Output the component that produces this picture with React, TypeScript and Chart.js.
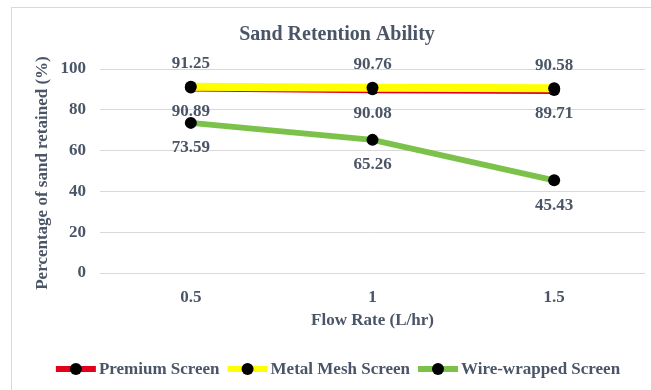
import { useEffect, useRef } from 'react';
import { Chart, registerables } from 'chart.js';

Chart.register(...registerables);

// Flow rates on the category axis
const flowRates = ['0.5', '1', '1.5'];
// Percentage of sand retained for each screen type
const premiumScreen = [90.89, 90.08, 89.71];
const metalMeshScreen = [91.25, 90.76, 90.58];
const wireWrappedScreen = [73.59, 65.26, 45.43];
// Y axis range and step
const yMin = 0;
const yMax = 100;
const yStep = 20;

const chartTitle = 'Sand Retention Ability';
const xTitle = 'Flow Rate (L/hr)';
const yTitle = 'Percentage of sand retained (%)';
const seriesNames = ['Premium Screen', 'Metal Mesh Screen', 'Wire-wrapped Screen'];

const SERIF = "'Liberation Serif', 'Times New Roman', serif";
const TEXT = '#4a5567';
const GRID = '#d9d9d9';

const decorations = {
  id: 'decorations',
  afterDatasetsDraw(chart: any) {
    const ctx = chart.ctx;
    ctx.save();
    ctx.font = `bold 17px ${SERIF}`;
    ctx.fillStyle = TEXT;
    ctx.textAlign = 'center';
    ctx.textBaseline = 'middle';
    chart.data.datasets.forEach((ds: any, i: number) => {
      const meta = chart.getDatasetMeta(i);
      meta.data.forEach((pt: any, j: number) => {
        const v = ds.data[j] as number;
        ctx.fillText(v.toFixed(2), pt.x, pt.y + ds.labelShift);
      });
    });
    ctx.restore();
  },
  afterDraw(chart: any) {
    const ctx = chart.ctx;
    const area = chart.chartArea;
    ctx.save();
    ctx.fillStyle = TEXT;
    ctx.textAlign = 'center';
    ctx.textBaseline = 'middle';

    // Title
    ctx.font = `bold 20px ${SERIF}`;
    ctx.fillText(chartTitle, 337, 35);

    // X axis title
    ctx.font = `bold 17px ${SERIF}`;
    ctx.fillText(xTitle, (area.left + area.right) / 2, 321);

    // Y axis title
    ctx.save();
    ctx.translate(43, (area.top + area.bottom) / 2 + 2);
    ctx.rotate(-Math.PI / 2);
    ctx.font = `bold 17px ${SERIF}`;
    ctx.fillText(yTitle, 0, 0);
    ctx.restore();

    // Legend
    ctx.font = `bold 17px ${SERIF}`;
    const markerW = 40;
    const textGap = 3;
    const itemGap = 8;
    const widths = chart.data.datasets.map(
      (ds: any) => markerW + textGap + ctx.measureText(ds.label).width
    );
    const total = widths.reduce((a: number, b: number) => a + b, 0) + itemGap * (widths.length - 1);
    let x = 338 - total / 2;
    const y = 369;
    chart.data.datasets.forEach((ds: any, i: number) => {
      ctx.strokeStyle = ds.borderColor;
      ctx.lineWidth = 6;
      ctx.lineCap = 'butt';
      ctx.beginPath();
      ctx.moveTo(x, y);
      ctx.lineTo(x + markerW, y);
      ctx.stroke();
      ctx.fillStyle = '#000000';
      ctx.beginPath();
      ctx.arc(x + markerW / 2, y, 6, 0, Math.PI * 2);
      ctx.fill();
      ctx.fillStyle = TEXT;
      ctx.textAlign = 'left';
      ctx.fillText(ds.label, x + markerW + textGap, y + 1);
      x += widths[i] + itemGap;
    });
    ctx.restore();
  },
};

export default function App() {
  const canvasRef = useRef<HTMLCanvasElement | null>(null);

  useEffect(() => {
    const canvas = canvasRef.current;
    if (!canvas) return;
    const chart = new Chart(canvas, {
      type: 'line',
      data: {
        labels: flowRates,
        datasets: [
          {
            label: seriesNames[0],
            data: premiumScreen,
            borderColor: '#e3001b',
            backgroundColor: '#e3001b',
            borderWidth: 8,
            pointRadius: 6,
            pointBackgroundColor: '#000000',
            pointBorderWidth: 0,
            order: 3,
            labelShift: 24,
          } as any,
          {
            label: seriesNames[1],
            data: metalMeshScreen,
            borderColor: '#ffff00',
            backgroundColor: '#ffff00',
            borderWidth: 8,
            pointRadius: 6,
            pointBackgroundColor: '#000000',
            pointBorderWidth: 0,
            order: 2,
            labelShift: -23,
          } as any,
          {
            label: seriesNames[2],
            data: wireWrappedScreen,
            borderColor: '#7cc24a',
            backgroundColor: '#7cc24a',
            borderWidth: 6,
            pointRadius: 6,
            pointBackgroundColor: '#000000',
            pointBorderWidth: 0,
            order: 1,
            labelShift: 25,
          } as any,
        ],
      },
      options: {
        responsive: false,
        animation: false,
        devicePixelRatio: 1,
        layout: { padding: { top: 69, right: 6, bottom: 0, left: 0 } },
        plugins: {
          legend: { display: false },
          title: { display: false },
          tooltip: { enabled: false },
        },
        scales: {
          x: {
            offset: true,
            grid: { display: false },
            border: { display: false },
            ticks: {
              color: TEXT,
              padding: 6,
              font: { family: SERIF, size: 17, weight: 'bold' },
            },
            afterFit: (s: any) => {
              s.height = 117;
            },
          },
          y: {
            min: yMin,
            max: yMax,
            grid: { color: GRID, lineWidth: 1, drawTicks: false },
            border: { display: false },
            ticks: {
              stepSize: yStep,
              color: TEXT,
              padding: 14,
              font: { family: SERIF, size: 17, weight: 'bold' },
            },
            afterFit: (s: any) => {
              s.width = 100;
            },
          },
        },
      },
      plugins: [decorations],
    });
    return () => chart.destroy();
  }, []);

  return (
    <div style={{ position: 'absolute', left: 0, top: 0, width: 651, height: 390, background: '#ffffff', overflow: 'hidden' }}>
      <div
        style={{
          position: 'absolute',
          left: 11,
          top: 7,
          width: 700,
          height: 450,
          border: `1px solid ${GRID}`,
          boxSizing: 'border-box',
        }}
      />
      <canvas ref={canvasRef} width={651} height={390} style={{ position: 'absolute', left: 0, top: 0 }} />
    </div>
  );
}
